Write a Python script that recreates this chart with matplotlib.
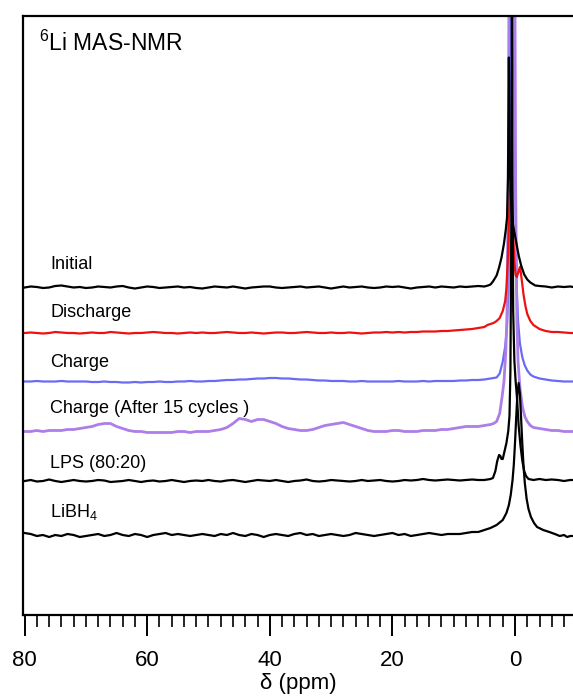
import numpy as np
import matplotlib
matplotlib.use("Agg")
import matplotlib.pyplot as plt
from matplotlib.ticker import MultipleLocator

plt.rcParams['font.family'] = ['Liberation Sans', 'DejaVu Sans']
plt.rcParams['mathtext.fontset'] = 'custom'
plt.rcParams['mathtext.rm'] = 'Liberation Sans'

# ---------------- data ----------------
# baseline region, read at 1 ppm steps from 80 ppm down to 6 ppm
base_initial = [0, 1, 0.5, -0.5, 0, 1.5, 2, 1, 0, 0.5,
                -0.5, 0, 1, 0.5, 0, 1, 1.5, 0, -1, 0,
                1, 0.5, -0.5, 0, 0.5, 1, 0, 0.5, -0.5, -1,
                0, 1, 0.5, 0, 1, 0, -1, 0, 0.5, 1,
                1, 0, -0.5, 0, 0.5, 1, 0, 0.5, 1, 0,
                -1, 0, 1, 0, 0.5, 1, 0, -0.5, 0, 1,
                0.5, 1, 0, -1, 0, 0.5, 1, 0, 1, 0.5,
                0, 1, 0.5, 1, 1.5]
base_discharge = [0, 0.5, 0, -0.5, 0, 1, 0.5, 0, 0, -0.5,
                  0, 0.5, 0, 0, 1, 0.5, 0, -0.5, 0, 0,
                  0.5, 1, 0.5, 0, 0, -0.5, 0, 0.5, 0, 0.5,
                  0, 0, 0.5, 1, 0.5, 0, 0, 0.5, 0, -0.5,
                  0, 0.5, 0.5, 0, 0, 0.5, 1, 0.5, 0, 0,
                  0.5, 0, 0, 0.5, 0, -0.5, 0, 0.5, 0.5, 1,
                  0.5, 1, 0.5, 1, 1, 1.5, 1.5, 1.5, 2, 2,
                  2.5, 3, 3.5, 4, 5]
base_charge = [0, 0, 0.5, 0, 0, 0, 0.5, 0, 0, 0,
               0, -0.5, -0.5, 0, -0.5, -0.5, -1, -1, -0.5, -1,
               -0.5, -0.5, 0, -0.5, -0.5, 0, 0, 0.5, 0, 0,
               0.5, 0.5, 1, 1.5, 1.5, 2, 2, 2.5, 3, 3,
               3.5, 3.5, 3, 3, 2.5, 2, 2, 1.5, 1, 1,
               0.5, 0.5, 0.5, 0, 0, 0.5, 0, 0, 0, 0,
               0, 0.5, 0, 0, 0, 0.5, 0, 0.5, 0.5, 0.5,
               0.5, 1, 1, 1.5, 1.5]
base_charge15 = [0, 0, 1, 0, 1, 1, 1, 2, 2, 3,
                 4, 5, 7, 8, 8, 5, 3, 1, 0, 0,
                 -1, -1, -1, -1, -1, 0, 0, -1, 0, 0,
                 0, 1, 2, 4, 8, 13, 12, 10, 12, 12,
                 10, 8, 5, 3, 2, 1, 1, 2, 4, 6,
                 7, 8, 9, 7, 5, 3, 1, 0, 0, 0,
                 1, 1, 0, 0, 0, 1, 1, 1, 2, 2,
                 3, 4, 5, 5, 5]
base_lps = [0, 1, -0.5, 0, 1.5, 0, -1, 0, 1, 0,
            -0.5, 0, 1, 0.5, -1, -0.5, 0, 1, 0, -1,
            0, 0.5, -0.5, 0, 1, 0, -1, 0, 0.5, 0,
            1, 0, -0.5, 0.5, 1, 0, -1, 0, 1, 0.5,
            0, 1, 0, -1, 0, 0.5, 1.5, 0, -0.5, 0,
            1, 0.5, 0, -0.5, 0, 1, 0, 0.5, 1, 0,
            -0.5, 0, 1, 0.5, 1, 2, 1, 0.5, 1, 1.5,
            1, 0.5, 1, 1.5, 1]
base_libh4 = [2, 1, -1, 0, -2, 0, -1, 1, 0, -2,
              -1, 0, 1, -1, 0, 2, 0, -1, 1, 0,
              -2, 0, 1, 2, 0, 1, 0, -1, 0, 1,
              0, -1, 1, 0, 2, 0, -1, 1, 0, -2,
              0, 1, 0, -1, 1, 2, 0, 1, -1, 0,
              1, 0, -1, 0, 2, 1, 0, -1, 0, 1,
              2, 0, 1, -1, 0, 1, 2, 1, 0, 1,
              1, 1, 2, 3, 3]

# resonance region, read point by point (ppm, intensity)
ppm_initial = [5, 4.4, 4, 3.6, 3.0, 2.6, 2.2, 1.8, 1.5, 1.3, 1.15, 1.0, 0.85, 0.6,
               0.3, 0.0, -0.3, -0.6, -1.0, -1.5, -2.0, -2.5, -3.3, -4, -5, -6, -7,
               -8, -9, -9.5]
int_initial = [1, 2, 3, 6, 12, 20, 30, 44, 58, 70, 110, 230, 120, 80,
               62, 52, 42, 32, 22, 13, 8, 5, 2, 1.5, 1, 0, 1,
               0.5, 1, 0.5]

ppm_discharge = [5, 4.5, 4, 3.5, 3, 2.5, 2.0, 1.6, 1.4, 1.2, 1.0, 0.8, 0.6, 0.3,
                 0.1, -0.1, -0.3, -0.5, -0.8, -1.0, -1.2, -1.4, -1.7, -2.0, -2.5,
                 -3, -4, -5, -6, -7, -8, -9, -9.5]
int_discharge = [6, 8, 9, 10, 12, 15, 22, 32, 45, 70, 110, 145, 150, 100,
                 70, 58, 56, 60, 66, 58, 48, 38, 27, 19, 12,
                 8, 4, 2, 1, 1, 0.5, 0, 0]

ppm_charge = [5, 4, 3, 2.5, 2.0, 1.6, 1.3, 1.1, 0.9, 0.7, 0.5, 0.3, 0.1, -0.1,
              -0.3, -0.5, -0.8, -1.2, -1.6, -2.0, -2.5, -3, -4, -5, -6, -7, -8,
              -9, -9.5]
int_charge = [2, 3, 4, 8, 20, 35, 55, 90, 170, 330, 430, 420, 280, 160,
              90, 60, 38, 24, 16, 11, 7, 5, 3, 2, 1, 0.5, 0,
              0, 0]

ppm_charge15 = [5, 4, 3.5, 3, 2.5, 2.1, 1.8, 1.5, 1.3, 1.1, 1.0, 0.9, 0.7, 0.5,
                0.3, 0.1, 0.0, -0.1, -0.3, -0.5, -0.8, -1.2, -1.6, -2.0, -2.5,
                -3, -4, -5, -6, -7, -8, -9, -9.5]
int_charge15 = [6, 7, 8, 10, 18, 35, 50, 80, 120, 250, 420, 700, 1500, 2000,
                1500, 700, 420, 250, 110, 70, 44, 25, 15, 10, 6,
                4, 3, 2, 1, 1, 0, 0, 0]

ppm_lps = [5, 4.5, 4, 3.6, 3.2, 2.9, 2.6, 2.4, 2.2, 2.0, 1.7, 1.4, 1.1, 0.9, 0.75,
           0.6, 0.5, 0.4, 0.3, 0.1, -0.1, -0.3, -0.6, -0.9, -1.2, -1.5, -1.8,
           -2.2, -3, -4, -5, -6, -7, -8, -9, -9.5]
int_lps = [1, 1.5, 2, 3, 10, 20, 26, 25, 22, 22, 30, 38, 50, 65, 110,
           260, 470, 300, 170, 120, 100, 85, 55, 35, 20, 10, 5,
           2, 1, 2, 1, 1.5, 1, 0, 1, 1]

ppm_libh4 = [5, 4.0, 3.0, 2.0, 1.4, 1.0, 0.7, 0.4, 0.2, 0.0, -0.2, -0.4, -0.6,
             -0.8, -1.0, -1.2, -1.4, -1.6, -1.9, -2.2, -2.6, -3.1, -3.6, -4.6,
             -5.6, -6.5, -7.3, -8, -8.5, -9, -9.5]
int_libh4 = [5, 7, 10, 15, 22, 30, 40, 55, 70, 92, 118, 142, 152,
             141, 116, 90, 68, 52, 36, 26, 18, 12, 8, 5,
             3, 1, -1, 0, -2, -1, -1]

labels = ["Initial", "Discharge", "Charge", "Charge (After 15 cycles )",
          "LPS (80:20)", r"LiBH$\mathregular{_4}$"]
colors = ["#000000", "#ee1111", "#6a6af5", "#ad7ee8", "#000000", "#000000"]
offsets = [327.5, 282, 233.5, 183.5, 134, 80]
label_y = [345.7, 298.3, 248.3, 202, 147, 98.3]

bases = [base_initial, base_discharge, base_charge, base_charge15, base_lps, base_libh4]
peak_ppm = [ppm_initial, ppm_discharge, ppm_charge, ppm_charge15, ppm_lps, ppm_libh4]
peak_int = [int_initial, int_discharge, int_charge, int_charge15, int_lps, int_libh4]

# ---------------- figure ----------------
fig = plt.figure(figsize=(5.73, 6.96), dpi=100)
ax = fig.add_axes([23 / 573, 81 / 696, 550 / 573, 599 / 696])

draw_order = [2, 3, 1, 5, 4, 0]
lws = [1.6, 1.6, 1.6, 2.0, 1.6, 1.6]
for i in draw_order:
    b = bases[i]
    xb = np.linspace(80, 6, len(b))
    x = np.concatenate([xb, peak_ppm[i]])
    y = offsets[i] + np.concatenate([b, peak_int[i]])
    ax.plot(x, y, color=colors[i], lw=lws[i], solid_joinstyle='round')

for i, lab in enumerate(labels):
    ax.text(75.8, label_y[i], lab, fontsize=13, ha='left', va='baseline')

ax.text(0.029, 0.942, r"$\mathregular{^6}$Li MAS-NMR", transform=ax.transAxes,
        fontsize=16.5, ha='left', va='baseline')

ax.set_xlim(80.26, -9.46)
ax.set_ylim(0, 599)
ax.spines['right'].set_visible(False)
for s in ['left', 'top', 'bottom']:
    ax.spines[s].set_linewidth(1.6)
ax.set_yticks([])
ax.xaxis.set_major_locator(MultipleLocator(20))
ax.xaxis.set_minor_locator(MultipleLocator(2))
ax.tick_params(axis='x', which='major', direction='out', length=15, width=1.4,
               labelsize=16, pad=10)
ax.tick_params(axis='x', which='minor', direction='out', length=8.5, width=1.2)
ax.set_xlabel("δ (ppm)", fontsize=16, labelpad=2)

fig.savefig("out.png", dpi=100)
